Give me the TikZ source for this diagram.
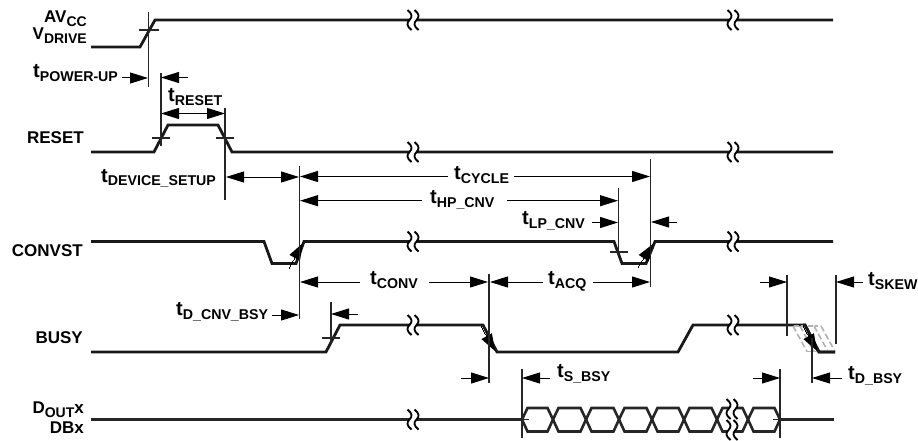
\documentclass[tikz,border=0pt]{standalone}
\usepackage{fontspec}
\setmainfont{Liberation Sans}[BoldFont={Liberation Sans Bold}]
\usetikzlibrary{arrows.meta}

\newcommand{\tname}[2]{{\fontsize{20}{20}\selectfont #1}\lower4pt\hbox{\fontsize{14.2}{14}\selectfont #2}}
\newcommand{\sigfont}{\fontsize{17}{17}\selectfont}

\tikzset{%
  signal/.style={line width=2.8pt, black!90},
  bus/.style={line width=2.6pt, black!85, line join=miter},
  refline/.style={line width=1.1pt, black!85},
  dimline/.style={line width=1pt, black, >={Triangle[length=18pt,width=11pt]}},
  slewhead/.style={line width=0pt, -{Triangle[length=17pt,width=12pt]}},
  skewmark/.style={line width=1.6pt, black!30},
  label/.style={anchor=base east, font=\bfseries\sigfont, inner sep=0pt},
  dimlabel/.style={anchor=base west, font=\bfseries, inner sep=0pt},
  brk/.pic={
    \fill [white] (-5.5,-10) .. controls (-0.5,-6) and (-0.5,-3) .. (-3.5,0) .. controls (-6.5,3) and (-6.5,6) .. (-1.5,10)
      -- (5.5,10) .. controls (0.5,6) and (0.5,3) .. (3.5,0) .. controls (6.5,-3) and (6.5,-6) .. (1.5,-10) -- cycle;
    \draw [line width=1.8pt] (-5.5,-10) .. controls (-0.5,-6) and (-0.5,-3) .. (-3.5,0) .. controls (-6.5,3) and (-6.5,6) .. (-1.5,10);
    \draw [line width=1.8pt] (1.5,-10) .. controls (6.5,-6) and (6.5,-3) .. (3.5,0) .. controls (0.5,3) and (0.5,6) .. (5.5,10);
  },
}

\begin{document}
\begin{tikzpicture}[x=1pt, y=-1pt]
    \useasboundingbox (0,0) rectangle (918,441);

    % waveforms
    \draw [signal] (91,47) -- (140,47) -- (155,20) -- (833,20);
    \draw [signal] (91,152) -- (154,152) -- (168,125) -- (218,125) -- (232,152) -- (833,152);
    \draw [signal] (91,241.5) -- (264,241.5) -- (272,263.5) -- (296,263.5) -- (304,241.5) -- (614,241.5)
      -- (622,263.5) -- (646,263.5) -- (655,241.5) -- (833,241.5);
    \draw [signal] (91,352) -- (326,352) -- (340,325) -- (483,325) -- (497,352) -- (678,352) -- (693,325)
      -- (805,325) -- (819,352) -- (835,352);

    % data bus
    \draw [bus] (91,419.5) -- (522,419.5);
    \draw [bus] (780,419.5) -- (834,419.5);
    \foreach \a/\b in {522/553,553/586,586/619,619/652,652/684,684/717,717/748,748/780}
      \draw [bus] (\a,419.5) -- (\a+5.5,408) -- (\b-5.5,408) -- (\b,419.5) -- (\b-5.5,431.5) -- (\a+5.5,431.5) -- cycle;

    % line breaks
    \foreach \x/\y in {413/20,413/152,413/241.5,413/325,413/419.5,733/20,733/152,733/241.5,733/325}
      \path (\x,\y) pic {brk};
    \path (732,409) pic {brk};
    \path (732,430) pic {brk};

    % uncertainty band of the last BUSY edge
    \foreach \x in {0,7,21,28}
      \draw [skewmark, dash pattern=on 6pt off 3pt] (793+\x,326) -- (807+\x,351.5);
    \draw [skewmark, dash pattern=on 5pt off 2pt] (794,326) -- (818,326);
    \draw [skewmark, dash pattern=on 5pt off 2pt] (807,351.5) -- (832,351.5);
    \draw [signal] (803,325) -- (805,325) -- (819,352) -- (835,352);

    % slopes with markers
    \draw [slewhead] (289,268) -- (303,243);
    \draw [slewhead] (638,267) -- (653,244);
    \draw [slewhead] (481,326) -- (495,351);
    \draw [slewhead] (803,326) -- (817,351);

    % reference lines
    \foreach \x/\a/\b in {148.5/12/87, 161/73/146, 225/108/200, 299.5/166/319, 618.5/188/255,
        650.5/159/287, 331/302/343, 489/274/383, 522/369/438, 780/369/438, 787/275/336,
        836/275/344, 812/338/383}
      \draw [refline] (\x,\a) -- (\x,\b);

    % crossing ticks
    \foreach \a/\b/\y in {139/159/30, 152/170/138, 216/234/138, 610/628/252, 322/340/338}
      \draw [refline] (\a,\y) -- (\b,\y);
    \draw [refline] (522,419.5) -- (529,419.5);
    \draw [refline] (773,419.5) -- (780,419.5);

    % single arrows from outside
    \foreach \a/\b/\y in {122/148/78, 188/161/77.5, 592/618/222.5, 677/651/222, 272/299/315, 358/331/314,
        461/489/378, 550/522/378, 753/780/378, 760/787/282, 863/836/282, 842/812/378}
      \draw [dimline, ->] (\a,\y) -- (\b,\y);

    % double arrows
    \draw [dimline, <->] (161,113.5) -- (225,113.5);
    \draw [dimline, <->] (226,177) -- (299,177);

    % arrows with a gap for the text
    \foreach \a/\c/\d/\b/\y in {300/448/514/650/176.5, 300/422/507/618/200.7, 300/360/429/488/282, 490/543/593/650/282} {
      \draw [dimline, <-] (\a,\y) -- (\c,\y);
      \draw [dimline, ->] (\d,\y) -- (\b,\y);
    }

    % signal names
    \node [label] (avcc) at (87,23) {AV\lower4pt\hbox{\fontsize{14}{14}\selectfont CC}};
    \node [label] (vdrive) at (87,40) {V\lower4pt\hbox{\fontsize{14}{14}\selectfont DRIVE}};
    \node [label] (reset) at (84,143) {RESET};
    \node [label] (convst) at (83,256) {CONVST};
    \node [label] (busy) at (83,343) {BUSY};
    \node [label] (dout) at (84,413) {D\lower4pt\hbox{\fontsize{14}{14}\selectfont OUT}x};
    \node [label] (dbx) at (84,433) {DBx};

    % timing names
    \foreach \n/\x/\y/\s in {powerup/33/78/POWER-UP, treset/168/102/RESET, devsetup/101/182/DEVICE\_SETUP,
        cycle/454/179/CYCLE, hpcnv/430/203/HP\_CNV, lpcnv/522/224/LP\_CNV, conv/370/284/CONV, acq/548/284/ACQ,
        dcnv/176/315/D\_CNV\_BSY, sbsy/557/377/S\_BSY, skew/868/285/SKEW, dbsy/848/379/D\_BSY}
      \node [dimlabel] (t-\n) at (\x,\y) {\tname{t}{\s}};
\end{tikzpicture}
\end{document}
